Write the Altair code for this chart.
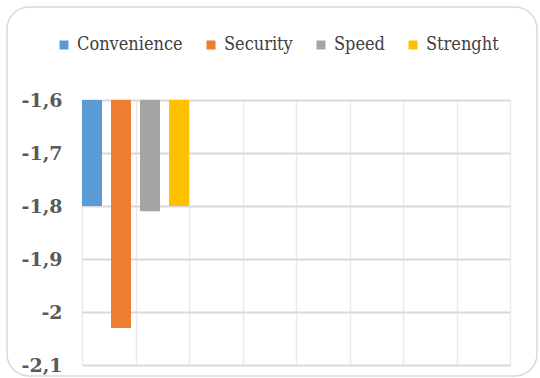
import altair as alt
import pandas as pd

series = ["Convenience", "Security", "Speed", "Strenght"]
values = [-1.80, -2.03, -1.81, -1.80]
colors = ["#5B9BD5", "#ED7D31", "#A5A5A5", "#FFC000"]
y_ticks = [-1.6, -1.7, -1.8, -1.9, -2.0, -2.1]
baseline = -1.6

df = pd.DataFrame({"series": series, "value": values})
one = pd.DataFrame({"a": [0], "b": [baseline]})

W, H = 428, 265
FONT_AXIS = "DejaVu Serif"
FONT_LEG = "DejaVu Serif Condensed"

yscale = alt.Scale(domain=[-2.1, -1.6], nice=False, zero=False)
yaxis = alt.Axis(values=y_ticks,
                 labelExpr="replace(toString(datum.value), '.', ',')",
                 grid=True, gridColor="#d9d9d9", gridWidth=2,
                 ticks=False, domain=False, title=None,
                 labelFont=FONT_AXIS, labelFontSize=19,
                 labelFontWeight="bold", labelColor="#595959",
                 labelPadding=20)

grid = alt.Chart(one).mark_point(opacity=0).encode(
    x=alt.X("a:Q",
            scale=alt.Scale(domain=[0, 8], nice=False, zero=False),
            axis=alt.Axis(tickCount=8, grid=True, gridColor="#ebebeb", gridWidth=1.5,
                          labels=False, ticks=False, domain=False, title=None)),
    y=alt.Y("b:Q", scale=yscale, axis=yaxis),
)

bars = alt.Chart(df).mark_bar().encode(
    x=alt.X("series:N",
            scale=alt.Scale(domain=series, range=[0, 107], paddingInner=0.31, paddingOuter=0),
            axis=None),
    y=alt.Y("value:Q", scale=yscale, axis=yaxis),
    y2=alt.datum(baseline),
    color=alt.Color("series:N",
                    scale=alt.Scale(domain=series, range=colors),
                    legend=alt.Legend(orient="none", legendX=-27, legendY=-64,
                                      direction="horizontal", title=None,
                                      symbolType="square", symbolSize=81,
                                      symbolStrokeWidth=0,
                                      labelFont=FONT_LEG, labelFontSize=18,
                                      labelColor="#404040", columnPadding=19,
                                      labelOffset=4, padding=0)),
)

border = alt.Chart(one).mark_rect(
    filled=False, stroke="#d9d9d9", strokeWidth=1.5, cornerRadius=22, clip=False
).encode(
    x=alt.value(-75), x2=alt.value(455), y=alt.value(-93), y2=alt.value(276)
)

chart = alt.layer(grid, bars, border).resolve_scale(x="independent").properties(
    width=W, height=H,
    autosize=alt.AutoSizeParams(type="none"),
    padding={"left": 82, "top": 100, "right": 30, "bottom": 13},
    background="white",
).configure_view(strokeWidth=0)

chart.save("out.html", embed_options={"renderer": "svg", "actions": False})
